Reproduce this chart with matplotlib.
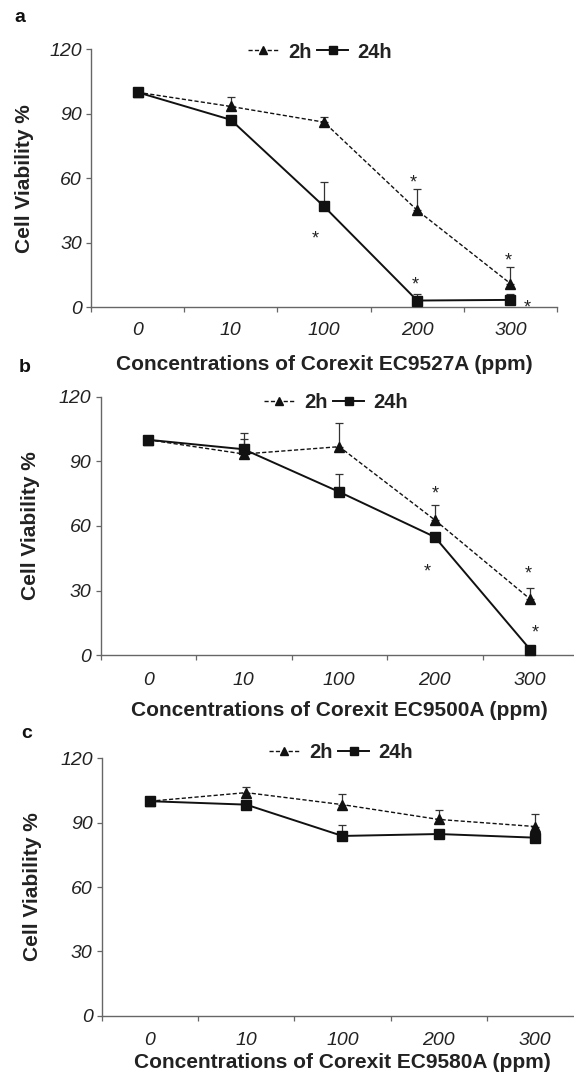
import matplotlib
matplotlib.use("Agg")
import matplotlib.pyplot as plt
import numpy as np
from matplotlib.lines import Line2D

plt.rcParams['font.family'] = ['Liberation Sans', 'DejaVu Sans']

W, H = 574, 1083

categories = ["0", "10", "100", "200", "300"]
yticks = [0, 30, 60, 90, 120]

# Panel a: Corexit EC9527A
a_2h = [100, 93.4, 86.1, 45.1, 11.0]
a_2h_err = [0, 4.6, 2.2, 9.9, 7.6]
a_24h = [100, 87.2, 46.9, 3.1, 3.4]
a_24h_err = [0, 0, 11.5, 2.9, 2.6]
# Panel b: Corexit EC9500A
b_2h = [100, 93.4, 96.8, 62.8, 26.0]
b_2h_err = [0, 6.8, 11.1, 6.9, 5.4]
b_24h = [100, 95.6, 75.8, 54.9, 2.6]
b_24h_err = [0, 7.4, 8.2, 0, 0]
# Panel c: Corexit EC9580A
c_2h = [100, 104.0, 98.4, 91.5, 88.2]
c_2h_err = [0, 2.8, 5.1, 4.3, 5.7]
c_24h = [100, 98.4, 83.8, 84.7, 83.0]
c_24h_err = [0, 0, 5.3, 0, 0]

# significance stars (category index, y)
a_stars = [(2.96, 57.8), (1.91, 31.7), (2.98, 10.2), (3.98, 21.4), (4.18, -0.3)]
b_stars = [(3.0, 74.8), (2.92, 38.7), (3.98, 37.7), (4.05, 10.2)]
c_stars = []

panels = [
    dict(letter="a", name="Corexit EC9527A", s2=a_2h, e2=a_2h_err, s24=a_24h, e24=a_24h_err, stars=a_stars,
         box=(91, 557, 49.3, 307.2), letter_xy=(20, 18), ylab_x=25, xlab_y=365, leg=(320, 52), xpad=11),
    dict(letter="b", name="Corexit EC9500A", s2=b_2h, e2=b_2h_err, s24=b_24h, e24=b_24h_err, stars=b_stars,
         box=(100.5, 578, 396.7, 655.2), letter_xy=(25, 367), ylab_x=31, xlab_y=710, leg=(336, 403), xpad=12),
    dict(letter="c", name="Corexit EC9580A", s2=c_2h, e2=c_2h_err, s24=c_24h, e24=c_24h_err, stars=c_stars,
         box=(101.8, 583, 758.3, 1015.7), letter_xy=(27, 733), ylab_x=33, xlab_y=1063, leg=(341, 753), xpad=12),
]

fig = plt.figure(figsize=(W / 100, H / 100), dpi=100)
spine_col = '#666666'
txt_col = '#222222'

def fx(px):
    return px / W

def fy(py):
    return 1 - py / H

for p in panels:
    l, r, t, b = p["box"]
    ax = fig.add_axes([fx(l), fy(b), (r - l) / W, (b - t) / H])
    x = np.arange(len(categories))
    ax.errorbar(x, p["s2"], yerr=[np.zeros(len(x)), p["e2"]], fmt='none', ecolor='#333333',
                elinewidth=0.9, capsize=3, capthick=0.9, zorder=2)
    ax.errorbar(x, p["s24"], yerr=[np.zeros(len(x)), p["e24"]], fmt='none', ecolor='#333333',
                elinewidth=0.9, capsize=3, capthick=0.9, zorder=2)
    ax.plot(x, p["s2"], color='#111111', lw=1.0, dashes=(3, 1.6), marker='^', ms=6.5,
            mfc='#111111', mec='#111111', zorder=3, clip_on=False)
    ax.plot(x, p["s24"], color='#111111', lw=1.4, marker='s', ms=6.5,
            mfc='#111111', mec='#111111', zorder=4, clip_on=False)
    for sx, sy in p["stars"]:
        ax.text(sx, sy, "*", ha='center', va='center', fontsize=13, color='#222222', clip_on=False)
    ax.set_xlim(-0.5, len(categories) - 0.5)
    ax.set_ylim(0, 120)
    ax.set_yticks(yticks)
    ax.set_yticklabels([str(v) for v in yticks], fontsize=14, style='italic', color=txt_col)
    ax.set_xticks(np.arange(len(categories) + 1) - 0.5)
    ax.set_xticklabels([])
    ax.set_xticks(x, minor=True)
    ax.set_xticklabels(categories, minor=True, fontsize=14, style='italic', color=txt_col)
    ax.tick_params(axis='x', which='minor', length=0, pad=p["xpad"])
    ax.tick_params(axis='x', which='major', length=3.5, width=0.9, color=spine_col, direction='out')
    ax.tick_params(axis='y', length=3.5, width=0.9, color=spine_col, direction='out', pad=3)
    for s in ['top', 'right']:
        ax.spines[s].set_visible(False)
    for s in ['left', 'bottom']:
        ax.spines[s].set_color(spine_col)
        ax.spines[s].set_linewidth(1.0)
    ax.patch.set_alpha(0)
    # axis labels
    fig.text(fx(p["ylab_x"]), fy((t + b) / 2), "Cell Viability %", rotation=90, ha='center', va='center',
             fontsize=15, fontweight='bold', color=txt_col)
    fig.text(fx((l + r) / 2), fy(p["xlab_y"]), "Concentrations of " + p["name"] + " (ppm)",
             ha='center', va='center', fontsize=15, fontweight='bold', color=txt_col)
    fig.text(fx(p["letter_xy"][0]), fy(p["letter_xy"][1]), p["letter"], ha='center', va='center',
             fontsize=14, fontweight='bold', color='#111111')
    handles = [Line2D([], [], color='#111111', lw=1.0, dashes=(3, 1.6), marker='^', ms=6, mfc='#111111'),
               Line2D([], [], color='#111111', lw=1.4, marker='s', ms=6, mfc='#111111')]
    leg = ax.legend(handles, ["2h", "24h"], ncol=2, loc='center',
                    bbox_to_anchor=(fx(p["leg"][0]), fy(p["leg"][1])), bbox_transform=fig.transFigure,
                    frameon=False, handlelength=1.5, handletextpad=0.5, columnspacing=0.3,
                    numpoints=1, prop=dict(weight='bold', size=14.5), borderpad=0, borderaxespad=0)
    for tx in leg.get_texts():
        tx.set_color(txt_col)

fig.savefig("out.png", dpi=100)
